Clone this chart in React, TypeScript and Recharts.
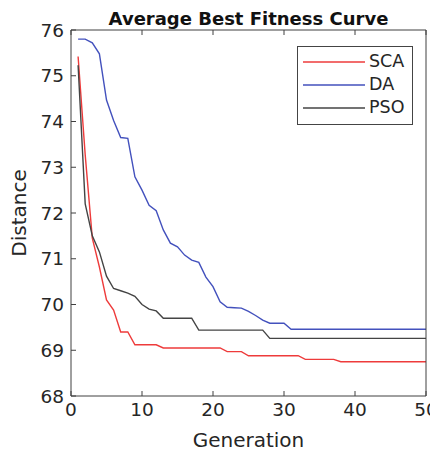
import { LineChart, Line, XAxis, YAxis, Legend, Label } from 'recharts'

// best fitness per generation (1..50)
const sca = [
  75.42, 73.27, 71.45, 70.82, 70.1, 69.88, 69.4, 69.4, 69.12, 69.12,
  69.12, 69.12, 69.05, 69.05, 69.05, 69.05, 69.05, 69.05, 69.05, 69.05,
  69.05, 68.97, 68.97, 68.97, 68.88, 68.88, 68.88, 68.88, 68.88, 68.88,
  68.88, 68.88, 68.8, 68.8, 68.8, 68.8, 68.8, 68.75, 68.75, 68.75,
  68.75, 68.75, 68.75, 68.75, 68.75, 68.75, 68.75, 68.75, 68.75, 68.75,
]
const da = [
  75.8, 75.8, 75.72, 75.48, 74.47, 74.02, 73.65, 73.63, 72.79, 72.5,
  72.17, 72.05, 71.63, 71.34, 71.26, 71.08, 70.97, 70.92, 70.6, 70.39,
  70.06, 69.94, 69.93, 69.92, 69.85, 69.76, 69.66, 69.59, 69.59, 69.59,
  69.46, 69.46, 69.46, 69.46, 69.46, 69.46, 69.46, 69.46, 69.46, 69.46,
  69.46, 69.46, 69.46, 69.46, 69.46, 69.46, 69.46, 69.46, 69.46, 69.46,
]
const pso = [
  75.23, 72.2, 71.5, 71.15, 70.62, 70.35, 70.3, 70.25, 70.18, 70.0,
  69.9, 69.86, 69.7, 69.7, 69.7, 69.7, 69.7, 69.44, 69.44, 69.44,
  69.44, 69.44, 69.44, 69.44, 69.44, 69.44, 69.44, 69.26, 69.26, 69.26,
  69.26, 69.26, 69.26, 69.26, 69.26, 69.26, 69.26, 69.26, 69.26, 69.26,
  69.26, 69.26, 69.26, 69.26, 69.26, 69.26, 69.26, 69.26, 69.26, 69.26,
]
const xTicks = [0, 10, 20, 30, 40, 50]
const yTicks = [68, 69, 70, 71, 72, 73, 74, 75, 76]

const series = [
  { name: 'SCA', color: '#ee3b3b', values: sca },
  { name: 'DA', color: '#4351bd', values: da },
  { name: 'PSO', color: '#444444', values: pso },
]

const data = sca.map((_, i) => {
  const row: Record<string, number> = { g: i + 1 }
  series.forEach(s => { row[s.name] = s.values[i] })
  return row
})

const FONT = '"DejaVu Sans", sans-serif'
const AXIS = '#404040'
const TEXT = '#262626'
const TICK = 5
const GAP = 7

function BottomTick({ x, y, payload }: any) {
  return (
    <g>
      <line x1={x} x2={x} y1={y - GAP} y2={y - GAP - TICK} stroke={AXIS} />
      <text x={x} y={y} dy="0.71em" textAnchor="middle" fontSize={18.5} fill={TEXT} fontFamily={FONT}>
        {payload.value}
      </text>
    </g>
  )
}

function LeftTick({ x, y, payload }: any) {
  return (
    <g>
      <line x1={x + GAP} x2={x + GAP + TICK} y1={y} y2={y} stroke={AXIS} />
      <text x={x} y={y} dy="0.36em" textAnchor="end" fontSize={18.5} fill={TEXT} fontFamily={FONT}>
        {payload.value}
      </text>
    </g>
  )
}

function TopTick({ x, y }: any) {
  return <line x1={x} x2={x} y1={y} y2={y + TICK} stroke={AXIS} />
}

function RightTick({ x, y }: any) {
  return <line x1={x} x2={x - TICK} y1={y} y2={y} stroke={AXIS} />
}

// keep the legend in series order (SCA, DA, PSO)
function LegendBox({ payload }: any) {
  const items = series.map(s => payload.find((p: any) => p.value === s.name)).filter(Boolean)
  return (
    <div style={{ border: '1px solid #444', background: '#fff', width: 114, height: 74, paddingTop: 3, boxSizing: 'content-box', fontFamily: FONT, fontSize: 17.5, color: TEXT }}>
      {items.map((p: any) => (
        <div key={p.value} style={{ display: 'flex', alignItems: 'center', height: 23.3 }}>
          <svg width={62} height={4} style={{ marginLeft: 5, marginRight: 4 }}>
            <line x1={0} x2={62} y1={2} y2={2} stroke={p.color} strokeWidth={1.4} />
          </svg>
          <span style={{ lineHeight: 1 }}>{p.value}</span>
        </div>
      ))}
    </div>
  )
}

export default function App() {
  return (
    <>
      <style>{'.recharts-surface { overflow: visible; }'}</style>
      <LineChart width={430} height={446} data={data} margin={{ top: 21, right: 11, bottom: 0, left: 0 }}>
        <XAxis
          dataKey="g" type="number" domain={[0, 50]} ticks={xTicks} height={58}
          tickSize={0} tickMargin={GAP} tick={BottomTick} tickLine={false}
          axisLine={{ stroke: AXIS }}
        >
          <Label value="Generation" position="insideBottom" offset={7} fontSize={20} fill={TEXT} fontFamily={FONT} />
        </XAxis>
        <XAxis
          xAxisId="top" orientation="top" dataKey="g" type="number" domain={[0, 50]} ticks={xTicks}
          height={1} tickSize={0} tickMargin={0} tick={TopTick} tickLine={false} axisLine={{ stroke: AXIS }}
        >
          <Label value="Average Best Fitness Curve" position="top" offset={4} fontSize={18} fontWeight="bold" fill="#111" fontFamily={FONT} />
        </XAxis>
        <YAxis
          type="number" domain={[68, 76]} ticks={yTicks} width={63}
          tickSize={0} tickMargin={GAP} tick={LeftTick} tickLine={false} axisLine={{ stroke: AXIS }}
        >
          <Label value="Distance" angle={-90} position="insideLeft" offset={11} fontSize={20} fill={TEXT} fontFamily={FONT} style={{ textAnchor: 'middle' }} />
        </YAxis>
        <YAxis
          yAxisId="right" orientation="right" type="number" domain={[68, 76]} ticks={yTicks} width={1}
          tickSize={0} tickMargin={0} tick={RightTick} tickLine={false} axisLine={{ stroke: AXIS }}
        />
        <Legend
          content={LegendBox} layout="vertical" align="center" verticalAlign="middle"
          wrapperStyle={{ left: 289, top: 38, width: 116 }}
        />
        {series.map(s => (
          <Line
            key={s.name} type="linear" dataKey={s.name} name={s.name} stroke={s.color}
            strokeWidth={1.4} dot={false} isAnimationActive={false}
          />
        ))}
      </LineChart>
    </>
  )
}
